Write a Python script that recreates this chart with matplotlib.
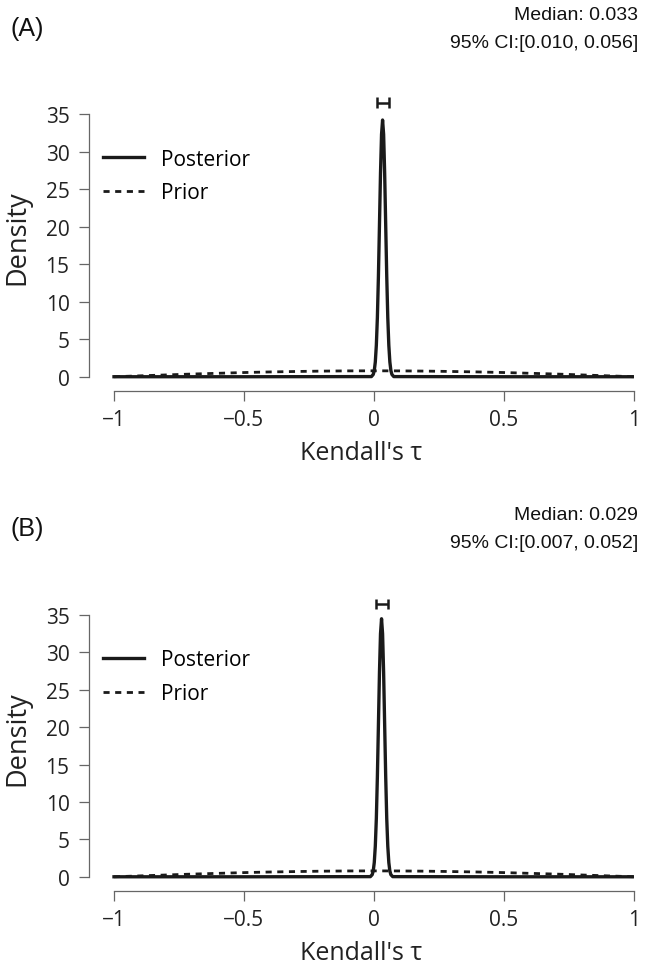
import matplotlib
matplotlib.use("Agg")
import matplotlib.pyplot as plt
from matplotlib.lines import Line2D

plt.rcParams['font.family'] = ['Open Sans', 'DejaVu Sans']

# ---- data ----
# prior on Kendall's tau (same in both panels)
prior_tau = [-1.0, -0.9, -0.8, -0.7, -0.6, -0.5, -0.4, -0.3, -0.2, -0.1, 0.0,
             0.1, 0.2, 0.3, 0.4, 0.5, 0.6, 0.7, 0.8, 0.9, 1.0]
prior_dens = [0.0, 0.12, 0.24, 0.36, 0.46, 0.56, 0.64, 0.70, 0.75, 0.78, 0.79,
              0.78, 0.75, 0.70, 0.64, 0.56, 0.46, 0.36, 0.24, 0.12, 0.0]

# panel A posterior
post_tau_a = [-1.0, -0.5, -0.010, -0.003, 0.001, 0.005, 0.009, 0.013, 0.017, 0.021,
              0.025, 0.029, 0.033, 0.037, 0.041, 0.045, 0.049, 0.053, 0.057,
              0.061, 0.065, 0.069, 0.076, 0.5, 1.0]
post_dens_a = [0.0, 0.0, 0.02, 0.30, 0.81, 1.96, 4.2, 7.9, 13.4, 20.2,
               27.1, 32.3, 34.2, 32.3, 27.1, 20.2, 13.4, 7.9, 4.2,
               1.96, 0.81, 0.30, 0.02, 0.0, 0.0]
median_a = 0.033
ci_a = (0.010, 0.056)

# panel B posterior
post_tau_b = [-1.0, -0.5, -0.014, -0.007, -0.003, 0.001, 0.005, 0.009, 0.013, 0.017,
              0.021, 0.025, 0.029, 0.033, 0.037, 0.041, 0.045, 0.049, 0.053,
              0.057, 0.061, 0.065, 0.072, 0.5, 1.0]
post_dens_b = [0.0, 0.0, 0.02, 0.28, 0.77, 1.9, 4.1, 7.8, 13.4, 20.3,
               27.3, 32.5, 34.5, 32.5, 27.3, 20.3, 13.4, 7.8, 4.1,
               1.9, 0.77, 0.28, 0.02, 0.0, 0.0]
median_b = 0.029
ci_b = (0.007, 0.052)

xticks = [-1, -0.5, 0, 0.5, 1]
xticklabels = ['\u22121', '\u22120.5', '0', '0.5', '1']
yticks = [0, 5, 10, 15, 20, 25, 30, 35]

W, H = 649, 970
fig = plt.figure(figsize=(W / 100, H / 100), dpi=100)

AX_GREY = '#666666'
LINE = '#1a1a1a'
TXT = '#222222'
DASH = (0, (2.2, 2.0))


def panel(rect, tag, ptau, pdens, med, ci, top):
    ax = fig.add_axes(rect)
    ax.plot(prior_tau, prior_dens, color=LINE, lw=2.0, ls=DASH)
    ax.plot(ptau, pdens, color=LINE, lw=2.4)

    # credible interval bar above the peak
    yb = 36.5
    ax.hlines(yb, ci[0], ci[1], color=LINE, lw=1.8, clip_on=False)
    ax.vlines(ci, yb - 0.7, yb + 0.7, color=LINE, lw=1.8, clip_on=False)

    ax.set_xlim(-1 - 25 / 260, 1.0)
    ax.set_ylim(-1.9, 35)
    for s in ['top', 'right']:
        ax.spines[s].set_visible(False)
    for s in ['left', 'bottom']:
        ax.spines[s].set_color(AX_GREY)
        ax.spines[s].set_linewidth(0.9)
    ax.spines['bottom'].set_bounds(-1, 1)
    ax.spines['left'].set_bounds(0, 35)
    ax.set_xticks(xticks)
    ax.set_xticklabels(xticklabels)
    ax.set_yticks(yticks)
    ax.tick_params(direction='out', length=7, width=0.9, color=AX_GREY,
                   labelsize=15, labelcolor=TXT)
    ax.tick_params(axis='y', pad=7)
    ax.tick_params(axis='x', pad=6)
    ax.set_xlabel("Kendall's \u03c4", fontsize=18, color=TXT, labelpad=7)
    ax.set_ylabel('Density', fontsize=19.5, color=TXT)
    ax.yaxis.set_label_coords(-0.105, (392 - 238) / 277)

    handles = [Line2D([], [], color=LINE, lw=2.4),
               Line2D([], [], color=LINE, lw=2.0, ls=DASH)]
    ax.legend(handles, ['Posterior', 'Prior'], loc='upper left',
              bbox_to_anchor=(0.025, 0.875), frameon=False, fontsize=15,
              handlelength=2.0, handletextpad=0.8, labelspacing=0.6,
              borderpad=0, borderaxespad=0)

    fig.text(10 / W, 1 - (top + 29) / H, tag, fontsize=18, family='Liberation Sans',
             ha='left', va='center', color='#111111')
    fig.text(638 / W, 1 - (top + 16) / H, f'Median: {med:.3f}', fontsize=14,
             family='Liberation Sans', ha='right', va='center', color='#111111')
    fig.text(638 / W, 1 - (top + 43) / H, f'95% CI:[{ci[0]:.3f}, {ci[1]:.3f}]',
             fontsize=14, family='Liberation Sans', ha='right', va='center',
             color='#111111')
    return ax


panel([89 / W, 1 - 392 / H, 545 / W, 277 / H], '(A)',
      post_tau_a, post_dens_a, median_a, ci_a, 0)
panel([89 / W, 1 - 892 / H, 545 / W, 276 / H], '(B)',
      post_tau_b, post_dens_b, median_b, ci_b, 500)

fig.savefig('out.png', dpi=100)
